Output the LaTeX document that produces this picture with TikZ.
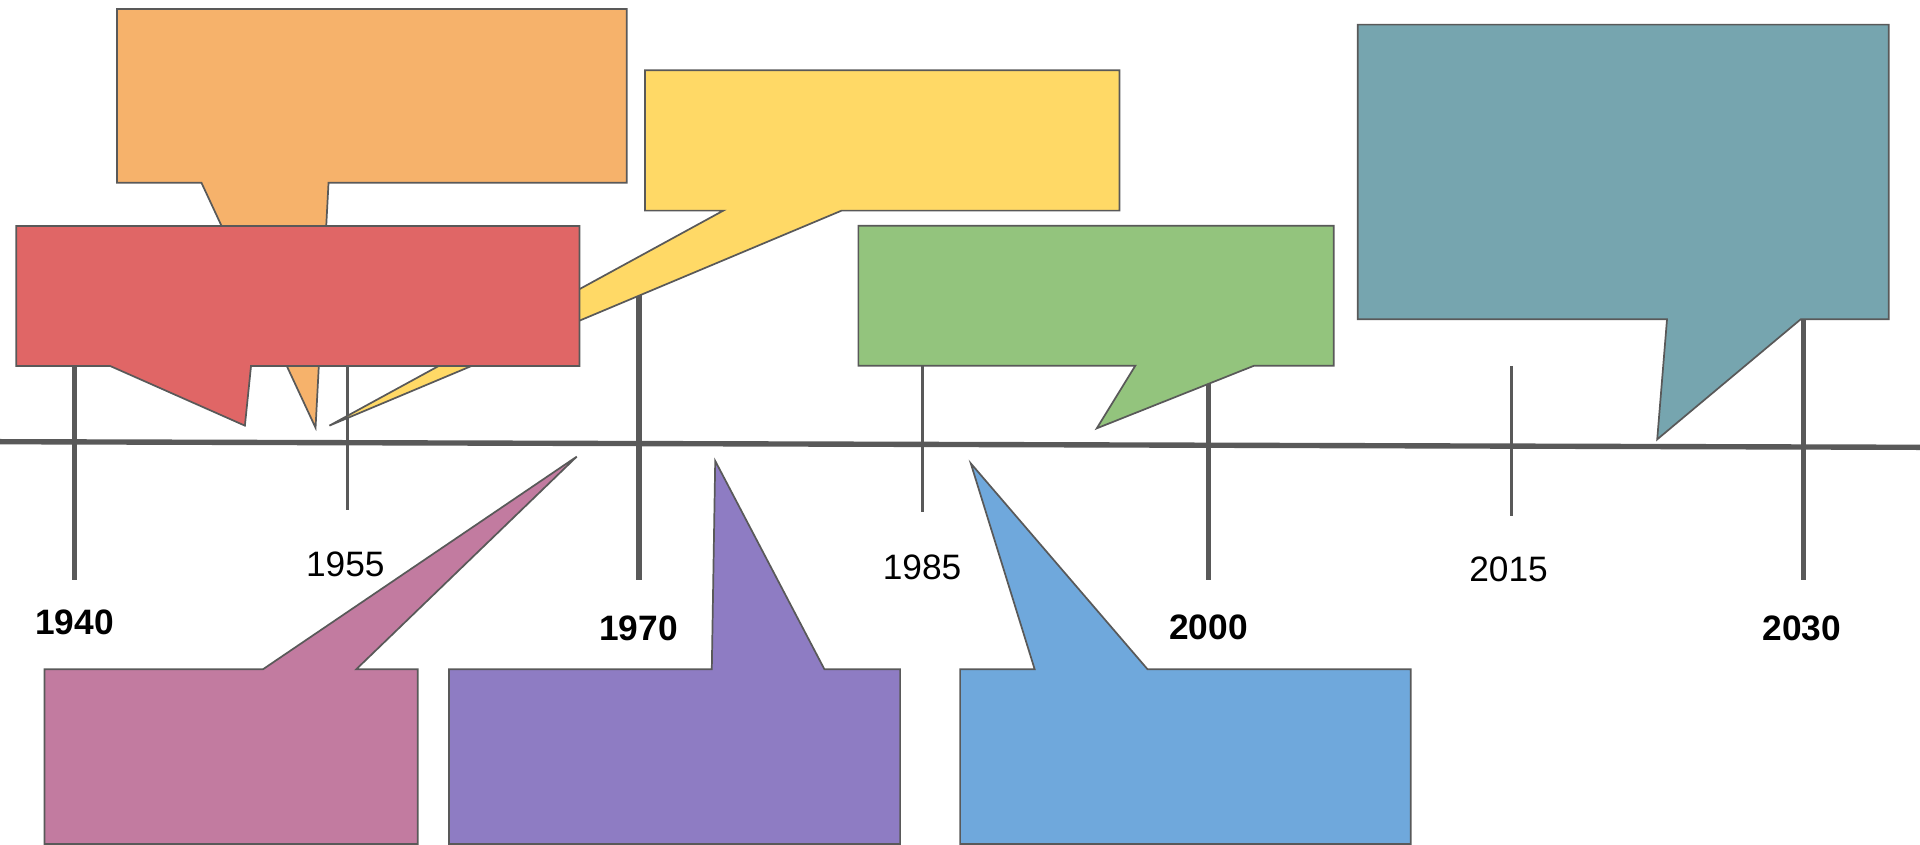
\documentclass[tikz,border=0pt]{standalone}
\usepackage{fontspec}
\setmainfont{Liberation Sans}
\usepackage{tikz}
\usetikzlibrary{positioning}
\usepackage{xcolor}
\definecolor{LineGray}{RGB}{89,89,89}
\definecolor{CallOrange}{RGB}{246,178,107}
\definecolor{CallYellow}{RGB}{255,217,102}
\definecolor{CallRed}{RGB}{224,102,102}
\definecolor{CallGreen}{RGB}{147,196,125}
\definecolor{CallTeal}{RGB}{118,165,175}
\definecolor{CallMauve}{RGB}{194,123,160}
\definecolor{CallPurple}{RGB}{142,124,195}
\definecolor{CallBlue}{RGB}{111,168,220}

\begin{document}
\begin{tikzpicture}[x=0.01cm, y=-0.01cm,
          axisline/.style={LineGray, line width=1.25pt},
          bigtick/.style={LineGray, line width=1.3pt},
          smalltick/.style={LineGray, line width=0.75pt},
          callout/.style={draw=LineGray, line width=0.4pt, line join=miter},
          yearbold/.style={anchor=base, inner sep=0pt, font=\fontsize{8.2}{10}\selectfont\bfseries},
          yearplain/.style={anchor=base, inner sep=0pt, font=\fontsize{8.2}{10}\selectfont}
        ]
          \useasboundingbox (0,0) rectangle (1568,690);

          % timeline and ticks
          \draw [axisline] (0,360.7) -- (1568,365.3);
          \draw [bigtick] (60.7,225) -- (60.7,473.7);
          \draw [bigtick] (522,225) -- (522,473.7);
          \draw [bigtick] (987.1,225) -- (987.1,473.7);
          \draw [bigtick] (1473,225) -- (1473,473.7);
          \draw [smalltick] (283.5,298.7) -- (283.5,416.5);
          \draw [smalltick] (753.1,298.7) -- (753.1,418.4);
          \draw [smalltick] (1234.6,298.7) -- (1234.6,421.1);

          % year labels
          \node (y1940) [yearbold] at (60.9,517.8) {1940};
          \node (y1955) [yearplain] at (282,471) {1955};
          \node (y1970) [yearbold] at (521.5,523) {1970};
          \node (y1985) [yearplain] at (753,473.6) {1985};
          \node (y2000) [yearbold] at (987,522) {2000};
          \node (y2015) [yearplain] at (1232,474.5) {2015};
          \node (y2030) [yearbold] at (1471.5,522.7) {2030};

          % callouts above the line
          \draw [callout, fill=CallOrange] (95.5,7.3) -- (511.8,7.3) -- (511.8,149.2) -- (268.3,149.2) -- (257.7,349.3) -- (164.5,149.2) -- (95.5,149.2) -- cycle;
          \draw [callout, fill=CallYellow] (526.7,57.4) -- (914.2,57.4) -- (914.2,172) -- (687.3,172) -- (269,347.6) -- (590.7,172) -- (526.7,172) -- cycle;
          \draw [callout, fill=CallRed] (13.3,184.6) -- (473.3,184.6) -- (473.3,298.9) -- (205,298.9) -- (200,347.6) -- (90,298.9) -- (13.3,298.9) -- cycle;
          \draw [callout, fill=CallGreen] (701,184.3) -- (1089.3,184.3) -- (1089.3,298.6) -- (1024.3,298.6) -- (895.7,349.8) -- (927.2,298.6) -- (701,298.6) -- cycle;
          \draw [callout, fill=CallTeal] (1108.9,20.1) -- (1542.4,20.1) -- (1542.4,260.8) -- (1470.5,260.8) -- (1353.4,358.8) -- (1361.4,260.8) -- (1108.9,260.8) -- cycle;

          % callouts below the line
          \draw [callout, fill=CallMauve] (36.4,546.6) -- (214.7,546.6) -- (471,372.9) -- (290.9,546.6) -- (341.2,546.6) -- (341.2,689.2) -- (36.4,689.2) -- cycle;
          \draw [callout, fill=CallPurple] (366.6,546.6) -- (581.3,546.6) -- (584.1,376.4) -- (673.3,546.6) -- (735.1,546.6) -- (735.1,689.2) -- (366.6,689.2) -- cycle;
          \draw [callout, fill=CallBlue] (784.1,546.6) -- (845,546.6) -- (792.8,378.4) -- (937.2,546.6) -- (1152.2,546.6) -- (1152.2,689.2) -- (784.1,689.2) -- cycle;
        \end{tikzpicture}
\end{document}
